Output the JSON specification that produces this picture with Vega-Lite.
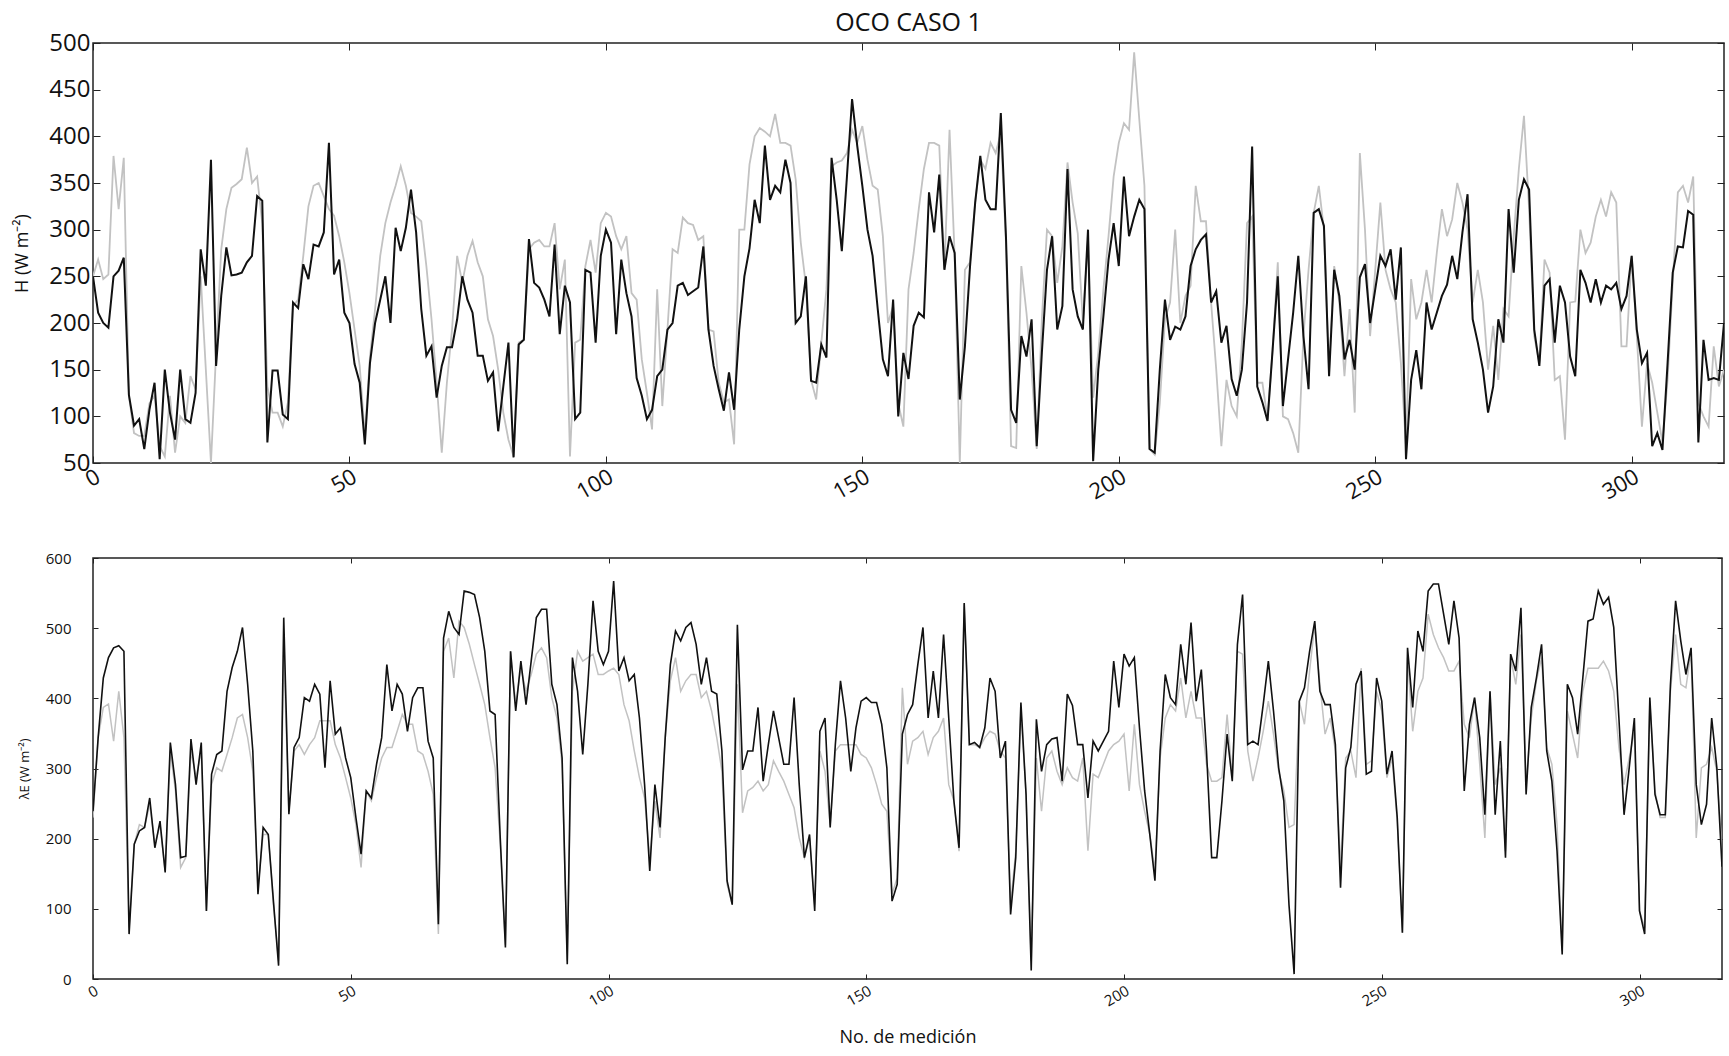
{
"$schema": "https://vega.github.io/schema/vega-lite/v6.json",
"background": "white",
"padding": {"left": 13, "top": 10, "right": 4, "bottom": 2},
"config": {
  "view": {"stroke": "#222", "strokeWidth": 1.5},
  "axis": {"domain": false, "grid": false, "tickColor": "#222", "labelColor": "#111", "titleColor": "#111", "labelFont": "Open Sans", "titleFont": "Open Sans", "titleFontWeight": "normal"},
  "title": {"font": "Open Sans", "fontWeight": "normal", "fontSize": 25, "color": "#111"},
  "concat": {"spacing": 46}
},
"datasets": {
"H": [
{"n":0,"obs":250,"sim":250},{"n":1,"obs":211,"sim":268},{"n":2,"obs":200,"sim":247},{"n":3,"obs":195,"sim":252},{"n":4,"obs":250,"sim":379},{"n":5,"obs":256,"sim":322},{"n":6,"obs":270,"sim":377},{"n":7,"obs":123,"sim":122},{"n":8,"obs":90,"sim":82},{"n":9,"obs":97,"sim":79},
{"n":10,"obs":65,"sim":79},{"n":11,"obs":107,"sim":114},{"n":12,"obs":136,"sim":122},{"n":13,"obs":54,"sim":68},{"n":14,"obs":150,"sim":57},{"n":15,"obs":104,"sim":122},{"n":16,"obs":75,"sim":61},{"n":17,"obs":150,"sim":100},{"n":18,"obs":97,"sim":93},{"n":19,"obs":93,"sim":143},
{"n":20,"obs":125,"sim":129},{"n":21,"obs":279,"sim":250},{"n":22,"obs":240,"sim":150},{"n":23,"obs":375,"sim":50},{"n":24,"obs":154,"sim":168},{"n":25,"obs":229,"sim":279},{"n":26,"obs":281,"sim":322},{"n":27,"obs":251,"sim":345},{"n":28,"obs":252,"sim":349},{"n":29,"obs":254,"sim":354},
{"n":30,"obs":265,"sim":388},{"n":31,"obs":272,"sim":350},{"n":32,"obs":336,"sim":357},{"n":33,"obs":331,"sim":307},{"n":34,"obs":72,"sim":132},{"n":35,"obs":149,"sim":104},{"n":36,"obs":149,"sim":104},{"n":37,"obs":102,"sim":89},{"n":38,"obs":97,"sim":115},{"n":39,"obs":222,"sim":218},
{"n":40,"obs":216,"sim":225},{"n":41,"obs":263,"sim":272},{"n":42,"obs":247,"sim":325},{"n":43,"obs":284,"sim":347},{"n":44,"obs":282,"sim":350},{"n":45,"obs":297,"sim":336},{"n":46,"obs":393,"sim":322},{"n":47,"obs":252,"sim":315},{"n":48,"obs":268,"sim":293},{"n":49,"obs":211,"sim":265},
{"n":50,"obs":200,"sim":232},{"n":51,"obs":156,"sim":193},{"n":52,"obs":136,"sim":154},{"n":53,"obs":70,"sim":79},{"n":54,"obs":157,"sim":164},{"n":55,"obs":200,"sim":215},{"n":56,"obs":225,"sim":272},{"n":57,"obs":250,"sim":307},{"n":58,"obs":200,"sim":329},{"n":59,"obs":302,"sim":347},
{"n":60,"obs":277,"sim":368},{"n":61,"obs":302,"sim":347},{"n":62,"obs":343,"sim":318},{"n":63,"obs":297,"sim":314},{"n":64,"obs":215,"sim":309},{"n":65,"obs":165,"sim":261},{"n":66,"obs":175,"sim":204},{"n":67,"obs":120,"sim":136},{"n":68,"obs":154,"sim":61},{"n":69,"obs":174,"sim":136},
{"n":70,"obs":174,"sim":193},{"n":71,"obs":204,"sim":272},{"n":72,"obs":250,"sim":243},{"n":73,"obs":225,"sim":272},{"n":74,"obs":211,"sim":288},{"n":75,"obs":165,"sim":265},{"n":76,"obs":165,"sim":250},{"n":77,"obs":138,"sim":204},{"n":78,"obs":147,"sim":186},{"n":79,"obs":84,"sim":150},
{"n":80,"obs":132,"sim":104},{"n":81,"obs":179,"sim":75},{"n":82,"obs":56,"sim":57},{"n":83,"obs":177,"sim":179},{"n":84,"obs":182,"sim":182},{"n":85,"obs":290,"sim":279},{"n":86,"obs":243,"sim":286},{"n":87,"obs":238,"sim":289},{"n":88,"obs":225,"sim":282},{"n":89,"obs":207,"sim":282},
{"n":90,"obs":284,"sim":307},{"n":91,"obs":188,"sim":236},{"n":92,"obs":240,"sim":268},{"n":93,"obs":222,"sim":57},{"n":94,"obs":97,"sim":179},{"n":95,"obs":104,"sim":182},{"n":96,"obs":257,"sim":261},{"n":97,"obs":254,"sim":289},{"n":98,"obs":179,"sim":254},{"n":99,"obs":272,"sim":307},
{"n":100,"obs":300,"sim":318},{"n":101,"obs":286,"sim":314},{"n":102,"obs":188,"sim":293},{"n":103,"obs":268,"sim":279},{"n":104,"obs":232,"sim":293},{"n":105,"obs":207,"sim":232},{"n":106,"obs":141,"sim":225},{"n":107,"obs":122,"sim":161},{"n":108,"obs":97,"sim":125},{"n":109,"obs":107,"sim":86},
{"n":110,"obs":143,"sim":236},{"n":111,"obs":150,"sim":111},{"n":112,"obs":193,"sim":193},{"n":113,"obs":200,"sim":279},{"n":114,"obs":240,"sim":275},{"n":115,"obs":243,"sim":313},{"n":116,"obs":230,"sim":307},{"n":117,"obs":234,"sim":305},{"n":118,"obs":238,"sim":289},{"n":119,"obs":282,"sim":293},
{"n":120,"obs":193,"sim":193},{"n":121,"obs":154,"sim":191},{"n":122,"obs":129,"sim":136},{"n":123,"obs":106,"sim":115},{"n":124,"obs":147,"sim":118},{"n":125,"obs":107,"sim":70},{"n":126,"obs":193,"sim":300},{"n":127,"obs":250,"sim":300},{"n":128,"obs":280,"sim":370},{"n":129,"obs":332,"sim":400},
{"n":130,"obs":307,"sim":409},{"n":131,"obs":390,"sim":405},{"n":132,"obs":332,"sim":400},{"n":133,"obs":347,"sim":424},{"n":134,"obs":340,"sim":393},{"n":135,"obs":375,"sim":393},{"n":136,"obs":350,"sim":390},{"n":137,"obs":200,"sim":354},{"n":138,"obs":207,"sim":286},{"n":139,"obs":250,"sim":240},
{"n":140,"obs":138,"sim":139},{"n":141,"obs":136,"sim":118},{"n":142,"obs":177,"sim":179},{"n":143,"obs":163,"sim":236},{"n":144,"obs":377,"sim":368},{"n":145,"obs":332,"sim":372},{"n":146,"obs":277,"sim":374},{"n":147,"obs":357,"sim":382},{"n":148,"obs":440,"sim":407},{"n":149,"obs":390,"sim":393},
{"n":150,"obs":347,"sim":411},{"n":151,"obs":300,"sim":375},{"n":152,"obs":272,"sim":347},{"n":153,"obs":215,"sim":343},{"n":154,"obs":161,"sim":293},{"n":155,"obs":143,"sim":200},{"n":156,"obs":225,"sim":218},{"n":157,"obs":100,"sim":114},{"n":158,"obs":168,"sim":89},{"n":159,"obs":140,"sim":236},
{"n":160,"obs":197,"sim":275},{"n":161,"obs":211,"sim":322},{"n":162,"obs":206,"sim":365},{"n":163,"obs":340,"sim":393},{"n":164,"obs":297,"sim":393},{"n":165,"obs":359,"sim":390},{"n":166,"obs":257,"sim":257},{"n":167,"obs":293,"sim":407},{"n":168,"obs":275,"sim":272},{"n":169,"obs":118,"sim":50},
{"n":170,"obs":175,"sim":257},{"n":171,"obs":261,"sim":265},{"n":172,"obs":329,"sim":329},{"n":173,"obs":379,"sim":375},{"n":174,"obs":332,"sim":365},{"n":175,"obs":322,"sim":393},{"n":176,"obs":322,"sim":382},{"n":177,"obs":425,"sim":404},{"n":178,"obs":293,"sim":286},{"n":179,"obs":107,"sim":68},
{"n":180,"obs":93,"sim":66},{"n":181,"obs":186,"sim":261},{"n":182,"obs":164,"sim":211},{"n":183,"obs":204,"sim":150},{"n":184,"obs":68,"sim":65},{"n":185,"obs":168,"sim":204},{"n":186,"obs":257,"sim":300},{"n":187,"obs":293,"sim":293},{"n":188,"obs":193,"sim":243},{"n":189,"obs":218,"sim":282},
{"n":190,"obs":365,"sim":372},{"n":191,"obs":236,"sim":329},{"n":192,"obs":207,"sim":296},{"n":193,"obs":193,"sim":200},{"n":194,"obs":300,"sim":290},{"n":195,"obs":52,"sim":120},{"n":196,"obs":150,"sim":168},{"n":197,"obs":207,"sim":236},{"n":198,"obs":268,"sim":293},{"n":199,"obs":307,"sim":357},
{"n":200,"obs":261,"sim":393},{"n":201,"obs":357,"sim":414},{"n":202,"obs":293,"sim":407},{"n":203,"obs":314,"sim":490},{"n":204,"obs":332,"sim":418},{"n":205,"obs":322,"sim":347},{"n":206,"obs":65,"sim":65},{"n":207,"obs":61,"sim":59},{"n":208,"obs":150,"sim":114},{"n":209,"obs":225,"sim":204},
{"n":210,"obs":182,"sim":222},{"n":211,"obs":196,"sim":300},{"n":212,"obs":193,"sim":200},{"n":213,"obs":207,"sim":229},{"n":214,"obs":261,"sim":240},{"n":215,"obs":279,"sim":347},{"n":216,"obs":289,"sim":309},{"n":217,"obs":295,"sim":309},{"n":218,"obs":222,"sim":222},{"n":219,"obs":234,"sim":150},
{"n":220,"obs":179,"sim":68},{"n":221,"obs":197,"sim":139},{"n":222,"obs":140,"sim":111},{"n":223,"obs":122,"sim":100},{"n":224,"obs":150,"sim":179},{"n":225,"obs":222,"sim":307},{"n":226,"obs":389,"sim":314},{"n":227,"obs":132,"sim":136},{"n":228,"obs":115,"sim":136},{"n":229,"obs":95,"sim":97},
{"n":230,"obs":172,"sim":172},{"n":231,"obs":250,"sim":265},{"n":232,"obs":111,"sim":100},{"n":233,"obs":161,"sim":97},{"n":234,"obs":211,"sim":82},{"n":235,"obs":272,"sim":61},{"n":236,"obs":186,"sim":186},{"n":237,"obs":129,"sim":257},{"n":238,"obs":318,"sim":318},{"n":239,"obs":322,"sim":347},
{"n":240,"obs":304,"sim":300},{"n":241,"obs":143,"sim":150},{"n":242,"obs":257,"sim":261},{"n":243,"obs":229,"sim":222},{"n":244,"obs":161,"sim":143},{"n":245,"obs":182,"sim":215},{"n":246,"obs":150,"sim":104},{"n":247,"obs":249,"sim":382},{"n":248,"obs":263,"sim":300},{"n":249,"obs":200,"sim":186},
{"n":250,"obs":236,"sim":257},{"n":251,"obs":272,"sim":329},{"n":252,"obs":261,"sim":257},{"n":253,"obs":279,"sim":236},{"n":254,"obs":225,"sim":222},{"n":255,"obs":281,"sim":157},{"n":256,"obs":54,"sim":68},{"n":257,"obs":139,"sim":247},{"n":258,"obs":171,"sim":204},{"n":259,"obs":129,"sim":222},
{"n":260,"obs":222,"sim":257},{"n":261,"obs":193,"sim":222},{"n":262,"obs":211,"sim":275},{"n":263,"obs":229,"sim":322},{"n":264,"obs":241,"sim":293},{"n":265,"obs":272,"sim":311},{"n":266,"obs":247,"sim":350},{"n":267,"obs":297,"sim":329},{"n":268,"obs":338,"sim":300},{"n":269,"obs":204,"sim":222},
{"n":270,"obs":179,"sim":257},{"n":271,"obs":150,"sim":222},{"n":272,"obs":104,"sim":150},{"n":273,"obs":132,"sim":197},{"n":274,"obs":204,"sim":139},{"n":275,"obs":179,"sim":215},{"n":276,"obs":322,"sim":207},{"n":277,"obs":254,"sim":293},{"n":278,"obs":332,"sim":365},{"n":279,"obs":354,"sim":422},
{"n":280,"obs":343,"sim":322},{"n":281,"obs":193,"sim":186},{"n":282,"obs":154,"sim":157},{"n":283,"obs":240,"sim":268},{"n":284,"obs":247,"sim":254},{"n":285,"obs":179,"sim":139},{"n":286,"obs":240,"sim":143},{"n":287,"obs":222,"sim":75},{"n":288,"obs":164,"sim":222},{"n":289,"obs":143,"sim":223},
{"n":290,"obs":257,"sim":300},{"n":291,"obs":243,"sim":275},{"n":292,"obs":222,"sim":286},{"n":293,"obs":247,"sim":314},{"n":294,"obs":222,"sim":332},{"n":295,"obs":240,"sim":314},{"n":296,"obs":236,"sim":340},{"n":297,"obs":243,"sim":329},{"n":298,"obs":215,"sim":175},{"n":299,"obs":229,"sim":175},
{"n":300,"obs":272,"sim":272},{"n":301,"obs":193,"sim":186},{"n":302,"obs":157,"sim":89},{"n":303,"obs":168,"sim":157},{"n":304,"obs":68,"sim":136},{"n":305,"obs":82,"sim":104},{"n":306,"obs":64,"sim":72},{"n":307,"obs":157,"sim":139},{"n":308,"obs":254,"sim":243},{"n":309,"obs":282,"sim":340},
{"n":310,"obs":281,"sim":347},{"n":311,"obs":320,"sim":329},{"n":312,"obs":316,"sim":357},{"n":313,"obs":72,"sim":114},{"n":314,"obs":182,"sim":100},{"n":315,"obs":139,"sim":89},{"n":316,"obs":141,"sim":175},{"n":317,"obs":139,"sim":132},{"n":318,"obs":200,"sim":150}
],
"E": [
{"n":0,"obs":239,"sim":230},{"n":1,"obs":344,"sim":344},{"n":2,"obs":429,"sim":387},{"n":3,"obs":458,"sim":392},{"n":4,"obs":472,"sim":339},{"n":5,"obs":475,"sim":410},{"n":6,"obs":467,"sim":344},{"n":7,"obs":64,"sim":73},{"n":8,"obs":192,"sim":192},{"n":9,"obs":211,"sim":220},
{"n":10,"obs":216,"sim":216},{"n":11,"obs":258,"sim":249},{"n":12,"obs":187,"sim":192},{"n":13,"obs":225,"sim":220},{"n":14,"obs":152,"sim":154},{"n":15,"obs":337,"sim":325},{"n":16,"obs":277,"sim":268},{"n":17,"obs":173,"sim":159},{"n":18,"obs":175,"sim":173},{"n":19,"obs":342,"sim":325},
{"n":20,"obs":277,"sim":287},{"n":21,"obs":337,"sim":325},{"n":22,"obs":97,"sim":97},{"n":23,"obs":292,"sim":277},{"n":24,"obs":320,"sim":301},{"n":25,"obs":325,"sim":296},{"n":26,"obs":410,"sim":320},{"n":27,"obs":444,"sim":344},{"n":28,"obs":467,"sim":372},{"n":29,"obs":501,"sim":377},
{"n":30,"obs":420,"sim":344},{"n":31,"obs":325,"sim":296},{"n":32,"obs":121,"sim":130},{"n":33,"obs":216,"sim":206},{"n":34,"obs":206,"sim":206},{"n":35,"obs":111,"sim":106},{"n":36,"obs":19,"sim":26},{"n":37,"obs":515,"sim":467},{"n":38,"obs":235,"sim":239},{"n":39,"obs":330,"sim":325},
{"n":40,"obs":344,"sim":334},{"n":41,"obs":401,"sim":320},{"n":42,"obs":396,"sim":334},{"n":43,"obs":420,"sim":344},{"n":44,"obs":406,"sim":368},{"n":45,"obs":301,"sim":368},{"n":46,"obs":425,"sim":368},{"n":47,"obs":349,"sim":334},{"n":48,"obs":358,"sim":315},{"n":49,"obs":315,"sim":287},
{"n":50,"obs":287,"sim":258},{"n":51,"obs":230,"sim":220},{"n":52,"obs":178,"sim":159},{"n":53,"obs":268,"sim":268},{"n":54,"obs":258,"sim":254},{"n":55,"obs":306,"sim":287},{"n":56,"obs":344,"sim":315},{"n":57,"obs":448,"sim":330},{"n":58,"obs":382,"sim":330},{"n":59,"obs":420,"sim":353},
{"n":60,"obs":406,"sim":377},{"n":61,"obs":353,"sim":363},{"n":62,"obs":401,"sim":363},{"n":63,"obs":415,"sim":325},{"n":64,"obs":415,"sim":320},{"n":65,"obs":339,"sim":296},{"n":66,"obs":315,"sim":263},{"n":67,"obs":78,"sim":64},{"n":68,"obs":486,"sim":467},{"n":69,"obs":524,"sim":486},
{"n":70,"obs":501,"sim":429},{"n":71,"obs":491,"sim":510},{"n":72,"obs":553,"sim":501},{"n":73,"obs":551,"sim":477},{"n":74,"obs":548,"sim":448},{"n":75,"obs":515,"sim":420},{"n":76,"obs":467,"sim":391},{"n":77,"obs":382,"sim":344},{"n":78,"obs":377,"sim":301},{"n":79,"obs":201,"sim":192},
{"n":80,"obs":45,"sim":49},{"n":81,"obs":467,"sim":467},{"n":82,"obs":382,"sim":391},{"n":83,"obs":453,"sim":443},{"n":84,"obs":391,"sim":410},{"n":85,"obs":453,"sim":434},{"n":86,"obs":515,"sim":463},{"n":87,"obs":527,"sim":472},{"n":88,"obs":527,"sim":458},{"n":89,"obs":420,"sim":401},
{"n":90,"obs":391,"sim":372},{"n":91,"obs":315,"sim":306},{"n":92,"obs":21,"sim":26},{"n":93,"obs":458,"sim":410},{"n":94,"obs":410,"sim":467},{"n":95,"obs":320,"sim":453},{"n":96,"obs":420,"sim":458},{"n":97,"obs":539,"sim":463},{"n":98,"obs":467,"sim":434},{"n":99,"obs":448,"sim":434},
{"n":100,"obs":467,"sim":439},{"n":101,"obs":567,"sim":443},{"n":102,"obs":439,"sim":434},{"n":103,"obs":458,"sim":391},{"n":104,"obs":425,"sim":368},{"n":105,"obs":434,"sim":325},{"n":106,"obs":372,"sim":287},{"n":107,"obs":277,"sim":258},{"n":108,"obs":154,"sim":173},{"n":109,"obs":277,"sim":254},
{"n":110,"obs":216,"sim":201},{"n":111,"obs":344,"sim":344},{"n":112,"obs":448,"sim":425},{"n":113,"obs":496,"sim":458},{"n":114,"obs":482,"sim":410},{"n":115,"obs":501,"sim":425},{"n":116,"obs":508,"sim":434},{"n":117,"obs":477,"sim":434},{"n":118,"obs":420,"sim":401},{"n":119,"obs":458,"sim":410},
{"n":120,"obs":410,"sim":382},{"n":121,"obs":406,"sim":344},{"n":122,"obs":325,"sim":296},{"n":123,"obs":140,"sim":135},{"n":124,"obs":106,"sim":106},{"n":125,"obs":505,"sim":420},{"n":126,"obs":298,"sim":237},{"n":127,"obs":325,"sim":268},{"n":128,"obs":325,"sim":273},{"n":129,"obs":387,"sim":282},
{"n":130,"obs":282,"sim":268},{"n":131,"obs":334,"sim":277},{"n":132,"obs":382,"sim":311},{"n":133,"obs":344,"sim":296},{"n":134,"obs":306,"sim":282},{"n":135,"obs":306,"sim":263},{"n":136,"obs":401,"sim":244},{"n":137,"obs":277,"sim":201},{"n":138,"obs":173,"sim":173},{"n":139,"obs":206,"sim":201},
{"n":140,"obs":97,"sim":106},{"n":141,"obs":353,"sim":325},{"n":142,"obs":372,"sim":296},{"n":143,"obs":216,"sim":220},{"n":144,"obs":334,"sim":325},{"n":145,"obs":425,"sim":334},{"n":146,"obs":372,"sim":334},{"n":147,"obs":296,"sim":334},{"n":148,"obs":358,"sim":334},{"n":149,"obs":396,"sim":320},
{"n":150,"obs":401,"sim":315},{"n":151,"obs":394,"sim":301},{"n":152,"obs":394,"sim":277},{"n":153,"obs":363,"sim":249},{"n":154,"obs":301,"sim":239},{"n":155,"obs":111,"sim":121},{"n":156,"obs":135,"sim":144},{"n":157,"obs":349,"sim":415},{"n":158,"obs":377,"sim":306},{"n":159,"obs":391,"sim":339},
{"n":160,"obs":448,"sim":344},{"n":161,"obs":501,"sim":353},{"n":162,"obs":372,"sim":320},{"n":163,"obs":439,"sim":344},{"n":164,"obs":372,"sim":353},{"n":165,"obs":491,"sim":372},{"n":166,"obs":372,"sim":277},{"n":167,"obs":254,"sim":254},{"n":168,"obs":187,"sim":182},{"n":169,"obs":536,"sim":534},
{"n":170,"obs":334,"sim":334},{"n":171,"obs":337,"sim":334},{"n":172,"obs":330,"sim":330},{"n":173,"obs":358,"sim":344},{"n":174,"obs":429,"sim":353},{"n":175,"obs":410,"sim":349},{"n":176,"obs":315,"sim":325},{"n":177,"obs":339,"sim":315},{"n":178,"obs":92,"sim":106},{"n":179,"obs":173,"sim":182},
{"n":180,"obs":394,"sim":382},{"n":181,"obs":263,"sim":263},{"n":182,"obs":12,"sim":26},{"n":183,"obs":370,"sim":315},{"n":184,"obs":296,"sim":239},{"n":185,"obs":334,"sim":315},{"n":186,"obs":342,"sim":325},{"n":187,"obs":344,"sim":296},{"n":188,"obs":282,"sim":277},{"n":189,"obs":406,"sim":301},
{"n":190,"obs":390,"sim":287},{"n":191,"obs":334,"sim":282},{"n":192,"obs":334,"sim":315},{"n":193,"obs":258,"sim":183},{"n":194,"obs":339,"sim":292},{"n":195,"obs":325,"sim":287},{"n":196,"obs":339,"sim":306},{"n":197,"obs":353,"sim":325},{"n":198,"obs":453,"sim":334},{"n":199,"obs":387,"sim":339},
{"n":200,"obs":463,"sim":349},{"n":201,"obs":446,"sim":268},{"n":202,"obs":458,"sim":363},{"n":203,"obs":358,"sim":277},{"n":204,"obs":268,"sim":239},{"n":205,"obs":206,"sim":206},{"n":206,"obs":140,"sim":154},{"n":207,"obs":325,"sim":315},{"n":208,"obs":434,"sim":372},{"n":209,"obs":401,"sim":391},
{"n":210,"obs":391,"sim":382},{"n":211,"obs":477,"sim":429},{"n":212,"obs":420,"sim":372},{"n":213,"obs":508,"sim":410},{"n":214,"obs":396,"sim":372},{"n":215,"obs":441,"sim":372},{"n":216,"obs":325,"sim":306},{"n":217,"obs":173,"sim":282},{"n":218,"obs":173,"sim":282},{"n":219,"obs":254,"sim":287},
{"n":220,"obs":349,"sim":377},{"n":221,"obs":282,"sim":287},{"n":222,"obs":477,"sim":467},{"n":223,"obs":548,"sim":463},{"n":224,"obs":334,"sim":325},{"n":225,"obs":339,"sim":282},{"n":226,"obs":334,"sim":315},{"n":227,"obs":391,"sim":353},{"n":228,"obs":453,"sim":396},{"n":229,"obs":382,"sim":349},
{"n":230,"obs":301,"sim":296},{"n":231,"obs":254,"sim":268},{"n":232,"obs":106,"sim":216},{"n":233,"obs":7,"sim":220},{"n":234,"obs":396,"sim":396},{"n":235,"obs":415,"sim":363},{"n":236,"obs":467,"sim":439},{"n":237,"obs":510,"sim":505},{"n":238,"obs":410,"sim":420},{"n":239,"obs":391,"sim":349},
{"n":240,"obs":391,"sim":372},{"n":241,"obs":334,"sim":325},{"n":242,"obs":130,"sim":159},{"n":243,"obs":301,"sim":315},{"n":244,"obs":330,"sim":325},{"n":245,"obs":420,"sim":287},{"n":246,"obs":439,"sim":443},{"n":247,"obs":292,"sim":306},{"n":248,"obs":296,"sim":311},{"n":249,"obs":429,"sim":410},
{"n":250,"obs":396,"sim":382},{"n":251,"obs":292,"sim":287},{"n":252,"obs":325,"sim":315},{"n":253,"obs":230,"sim":225},{"n":254,"obs":66,"sim":66},{"n":255,"obs":472,"sim":458},{"n":256,"obs":387,"sim":353},{"n":257,"obs":496,"sim":410},{"n":258,"obs":467,"sim":429},{"n":259,"obs":553,"sim":520},
{"n":260,"obs":563,"sim":491},{"n":261,"obs":563,"sim":472},{"n":262,"obs":520,"sim":458},{"n":263,"obs":477,"sim":439},{"n":264,"obs":539,"sim":439},{"n":265,"obs":486,"sim":453},{"n":266,"obs":268,"sim":363},{"n":267,"obs":363,"sim":344},{"n":268,"obs":401,"sim":401},{"n":269,"obs":344,"sim":306},
{"n":270,"obs":234,"sim":201},{"n":271,"obs":410,"sim":410},{"n":272,"obs":234,"sim":277},{"n":273,"obs":339,"sim":301},{"n":274,"obs":173,"sim":182},{"n":275,"obs":463,"sim":458},{"n":276,"obs":439,"sim":420},{"n":277,"obs":529,"sim":491},{"n":278,"obs":263,"sim":277},{"n":279,"obs":387,"sim":372},
{"n":280,"obs":429,"sim":425},{"n":281,"obs":477,"sim":458},{"n":282,"obs":325,"sim":330},{"n":283,"obs":282,"sim":306},{"n":284,"obs":182,"sim":220},{"n":285,"obs":35,"sim":40},{"n":286,"obs":420,"sim":382},{"n":287,"obs":401,"sim":349},{"n":288,"obs":349,"sim":315},{"n":289,"obs":429,"sim":410},
{"n":290,"obs":510,"sim":443},{"n":291,"obs":513,"sim":443},{"n":292,"obs":553,"sim":443},{"n":293,"obs":534,"sim":453},{"n":294,"obs":544,"sim":439},{"n":295,"obs":501,"sim":410},{"n":296,"obs":372,"sim":330},{"n":297,"obs":234,"sim":277},{"n":298,"obs":301,"sim":315},{"n":299,"obs":372,"sim":353},
{"n":300,"obs":97,"sim":97},{"n":301,"obs":64,"sim":73},{"n":302,"obs":401,"sim":396},{"n":303,"obs":263,"sim":268},{"n":304,"obs":234,"sim":230},{"n":305,"obs":234,"sim":230},{"n":306,"obs":420,"sim":410},{"n":307,"obs":539,"sim":491},{"n":308,"obs":482,"sim":420},{"n":309,"obs":434,"sim":415},
{"n":310,"obs":472,"sim":467},{"n":311,"obs":277,"sim":201},{"n":312,"obs":220,"sim":301},{"n":313,"obs":249,"sim":306},{"n":314,"obs":372,"sim":330},{"n":315,"obs":301,"sim":296},{"n":316,"obs":160,"sim":182}
]
},
"vconcat": [
{
  "title": {"text": "OCO CASO 1", "offset": -5},
  "width": 1631, "height": 420,
  "data": {"name": "H"},
  "layer": [
    {"mark": {"type": "line", "color": "#c2c2c2", "strokeWidth": 1.8, "clip": true},
     "encoding": {
       "x": {"field": "n", "type": "quantitative", "scale": {"domain": [0, 318], "nice": false, "zero": false},
             "axis": {"values": [0,50,100,150,200,250,300], "labelAngle": -30, "labelAlign": "right", "labelBaseline": "top", "labelFontSize": 22, "tickSize": -7, "labelPadding": 10, "title": null}},
       "y": {"field": "sim", "type": "quantitative", "scale": {"domain": [50, 500], "nice": false, "zero": false},
             "axis": {"values": [50,100,150,200,250,300,350,400,450,500], "labelFontSize": 24, "tickSize": -7, "labelPadding": 10, "title": "H (W m⁻²)", "titleFontSize": 18, "titlePadding": 17}}
     }},
    {"mark": {"type": "line", "color": "#111111", "strokeWidth": 2, "clip": true},
     "encoding": {
       "x": {"field": "n", "type": "quantitative", "scale": {"domain": [0, 318], "nice": false, "zero": false},
             "axis": {"orient": "top", "values": [0,50,100,150,200,250,300], "labels": false, "tickSize": -7, "title": null}},
       "y": {"field": "obs", "type": "quantitative", "scale": {"domain": [50, 500], "nice": false, "zero": false},
             "axis": {"orient": "right", "values": [50,100,150,200,250,300,350,400,450,500], "labels": false, "tickSize": -7, "title": null}}
     }}
  ],
  "resolve": {"axis": {"x": "independent", "y": "independent"}}
},
{
  "width": 1629, "height": 421,
  "data": {"name": "E"},
  "layer": [
    {"mark": {"type": "line", "color": "#c2c2c2", "strokeWidth": 1.5, "clip": true},
     "encoding": {
       "x": {"field": "n", "type": "quantitative", "scale": {"domain": [0, 316], "nice": false, "zero": false},
             "axis": {"values": [0,50,100,150,200,250,300], "labelAngle": -30, "labelAlign": "right", "labelBaseline": "top", "labelFontSize": 15, "tickSize": -5, "labelPadding": 9, "title": "No. de medición", "titleFontSize": 18, "titlePadding": 20}},
       "y": {"field": "sim", "type": "quantitative", "scale": {"domain": [0, 600], "nice": false, "zero": false},
             "axis": {"values": [0,100,200,300,400,500,600], "labelFontSize": 15, "tickSize": -5, "labelPadding": 27, "title": "λE (W m⁻²)", "titleFontSize": 13, "titlePadding": 14}}
     }},
    {"mark": {"type": "line", "color": "#111111", "strokeWidth": 1.6, "clip": true},
     "encoding": {
       "x": {"field": "n", "type": "quantitative", "scale": {"domain": [0, 316], "nice": false, "zero": false},
             "axis": {"orient": "top", "values": [0,50,100,150,200,250,300], "labels": false, "tickSize": -5, "title": null}},
       "y": {"field": "obs", "type": "quantitative", "scale": {"domain": [0, 600], "nice": false, "zero": false},
             "axis": {"orient": "right", "values": [0,100,200,300,400,500,600], "labels": false, "tickSize": -5, "title": null}}
     }}
  ],
  "resolve": {"axis": {"x": "independent", "y": "independent"}}
}
]
}
